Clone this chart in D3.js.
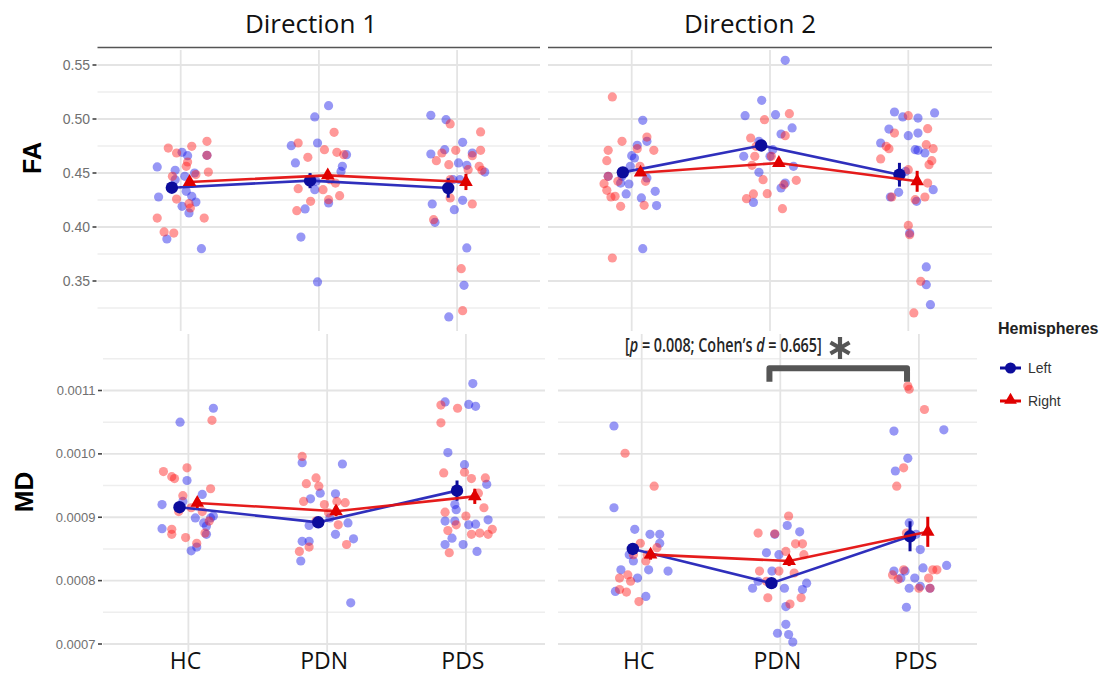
<!DOCTYPE html>
<html><head><meta charset="utf-8">
<script src="https://cdn.jsdelivr.net/npm/d3@7"></script>
<style>body{margin:0;background:#fff} svg{display:block}</style>
</head><body><svg id="c" width="1101" height="676"></svg>
<script>
// ---------------- data ----------------
const categories = ["HC", "PDN", "PDS"];
const hemispheres = ["Left", "Right"];
const directions = ["Direction 1", "Direction 2"];
const measures = ["FA", "MD"];
const faTicks = [0.35, 0.40, 0.45, 0.50, 0.55];
const faTickLabels = ["0.35", "0.40", "0.45", "0.50", "0.55"];
const mdTicks = [0.0007, 0.0008, 0.0009, 0.0010, 0.0011];
const mdTickLabels = ["0.0007", "0.0008", "0.0009", "0.0010", "0.0011"];

// group means and error bars (HC, PDN, PDS)
const faD1Left = [0.4364, 0.4429, 0.4361], faD1Right = [0.4417, 0.4478, 0.4417];
const faD1LeftSE = [0.003, 0.007, 0.009], faD1RightSE = [0.003, 0.004, 0.0075];
const faD2Left = [0.4506, 0.4755, 0.4484], faD2Right = [0.4503, 0.4593, 0.4423];
const faD2LeftSE = [0.003, 0.004, 0.011], faD2RightSE = [0.003, 0.003, 0.0097];
const mdD1Left = [9.158e-4, 8.92e-4, 9.42e-4], mdD1Right = [9.226e-4, 9.095e-4, 9.33e-4];
const mdD1LeftSE = [0.08e-4, 0.08e-4, 0.16e-4], mdD1RightSE = [0.08e-4, 0.08e-4, 0.12e-4];
const mdD2Left = [8.50e-4, 7.96e-4, 8.70e-4], mdD2Right = [8.41e-4, 8.31e-4, 8.77e-4];
const mdD2LeftSE = [0.08e-4, 0.08e-4, 0.237e-4], mdD2RightSE = [0.08e-4, 0.08e-4, 0.237e-4];

// individual subjects: [category index, jitter (category units), value]
const faD1LeftPts = [
 [0,-0.17,0.4556],[0,-0.16,0.4278],[0,-0.10,0.3889],[0,-0.04,0.4525],[0,0.01,0.4691],[0,0.05,0.4660],[0,0.03,0.4469],[0,0.06,0.4130],[0,0.10,0.4500],[0,0.11,0.4231],[0,0.08,0.4284],[0,0.01,0.4191],[0,0.15,0.3799],[0,0.19,0.4664],[0,-0.04,0.4438],[0,0.04,0.4330],
 [1,-0.20,0.4753],[1,-0.17,0.4593],[1,-0.03,0.5019],[1,0.07,0.5123],[1,-0.01,0.4778],[1,-0.10,0.4167],[1,-0.13,0.3907],[1,-0.01,0.3491],[1,0.17,0.4562],[1,0.07,0.4222],[1,-0.03,0.4346],[1,-0.05,0.4438],[1,0.16,0.4515],[1,0.20,0.4670],[1,-0.02,0.4423],
 [2,-0.19,0.5034],[2,-0.08,0.4994],[2,-0.19,0.4676],[2,-0.09,0.4716],[2,0.04,0.4784],[2,0.01,0.4593],[2,0.07,0.4571],[2,-0.18,0.4213],[2,-0.16,0.4043],[2,-0.02,0.4160],[2,0.04,0.4247],[2,0.07,0.3806],[2,0.05,0.3460],[2,-0.06,0.3167],[2,0.11,0.4685],[2,0.20,0.4509],[2,-0.03,0.4438],[2,0.02,0.4438]
];
const faD1RightPts = [
 [0,-0.09,0.4731],[0,-0.17,0.4083],[0,-0.12,0.3954],[0,-0.05,0.3944],[0,-0.03,0.4685],[0,0.05,0.4602],[0,0.08,0.4747],[0,0.19,0.4793],[0,0.20,0.4509],[0,0.17,0.4083],[0,-0.03,0.4259],[0,0.06,0.4216],[0,0.07,0.4176],[0,0.04,0.4562],[0,-0.06,0.4469],[0,0.11,0.4485],[0,0.19,0.4664],
 [1,-0.15,0.4778],[1,-0.08,0.4645],[1,0.11,0.4877],[1,0.04,0.4716],[1,0.13,0.4691],[1,-0.16,0.4151],[1,-0.06,0.4238],[1,-0.15,0.4355],[1,0.07,0.4253],[1,0.15,0.4290],[1,0.18,0.4670],[1,0.08,0.4438],[1,0.03,0.4346],[1,0.12,0.4407],
 [2,-0.05,0.4954],[2,-0.01,0.4710],[2,0.17,0.4880],[2,-0.06,0.4577],[2,-0.15,0.4614],[2,-0.11,0.4685],[2,0.11,0.4660],[2,0.17,0.4710],[2,0.16,0.4562],[2,0.18,0.4525],[2,-0.17,0.4068],[2,-0.05,0.4269],[2,0.11,0.4213],[2,0.03,0.3614],[2,0.04,0.3225],[2,0.08,0.4531],[2,-0.05,0.4438]
];
const faD2LeftPts = [
 [0,0.08,0.4988],[0,0.04,0.4756],[0,0.11,0.4793],[0,0.00,0.4660],[0,-0.01,0.4562],[0,-0.07,0.4469],[0,-0.02,0.4398],[0,-0.04,0.4306],[0,0.07,0.4269],[0,0.17,0.4330],[0,0.18,0.4198],[0,0.08,0.3799],[0,-0.08,0.4407],[0,-0.17,0.4469],[0,0.11,0.4454],[0,0.02,0.4639],
 [1,0.11,0.5543],[1,-0.06,0.5173],[1,-0.18,0.5031],[1,0.04,0.5040],[1,0.16,0.4917],[1,0.08,0.4861],[1,-0.08,0.4793],[1,-0.19,0.4654],[1,0.00,0.4654],[1,-0.08,0.4506],[1,-0.12,0.4228],[1,0.08,0.4361],[1,0.17,0.4562],[1,0.11,0.4407],[1,0.02,0.4716],
 [2,-0.10,0.5065],[2,-0.04,0.5019],[2,0.07,0.5009],[2,0.19,0.5056],[2,-0.14,0.4907],[2,0.00,0.4846],[2,0.07,0.4870],[2,-0.20,0.4778],[2,0.05,0.4716],[2,0.12,0.4685],[2,-0.07,0.4321],[2,-0.13,0.4278],[2,0.06,0.4238],[2,0.18,0.4346],[2,0.01,0.3944],[2,0.13,0.3630],[2,0.13,0.3466],[2,0.16,0.3281],[2,0.07,0.4710],[2,-0.02,0.4515]
];
const faD2RightPts = [
 [0,-0.14,0.5204],[0,-0.07,0.4793],[0,-0.17,0.4710],[0,-0.18,0.4614],[0,-0.20,0.4401],[0,-0.18,0.4340],[0,-0.15,0.4278],[0,-0.12,0.4284],[0,-0.08,0.4191],[0,0.11,0.4833],[0,0.16,0.4710],[0,0.10,0.4423],[0,0.09,0.4201],[0,-0.14,0.3713],[0,-0.17,0.4469],[0,0.04,0.4725],[0,-0.10,0.4423],[0,0.06,0.4562],
 [1,0.14,0.5049],[1,-0.04,0.4994],[1,0.11,0.4846],[1,-0.14,0.4824],[1,-0.11,0.4654],[1,-0.13,0.4571],[1,-0.05,0.4438],[1,-0.12,0.4306],[1,-0.17,0.4262],[1,-0.02,0.4309],[1,0.09,0.4170],[1,0.19,0.4432],[1,0.10,0.4392],[1,0.01,0.4654],[1,-0.10,0.4747],
 [2,0.00,0.5031],[2,-0.10,0.4870],[2,0.14,0.4910],[2,-0.16,0.4747],[2,-0.14,0.4725],[2,0.13,0.4762],[2,0.18,0.4725],[2,0.17,0.4614],[2,0.15,0.4577],[2,-0.20,0.4630],[2,0.00,0.4531],[2,-0.12,0.4278],[2,0.05,0.4253],[2,0.12,0.4278],[2,0.00,0.4015],[2,0.01,0.3929],[2,0.09,0.3497],[2,0.04,0.3204],[2,0.14,0.4407]
];
const mdD1LeftPts = [
 [0,-0.06,10.50e-4],[0,0.18,10.72e-4],[0,-0.19,9.20e-4],[0,-0.19,8.82e-4],[0,-0.01,9.58e-4],[0,0.02,8.47e-4],[0,0.06,8.53e-4],[0,0.11,8.91e-4],[0,0.13,8.73e-4],[0,0.16,8.99e-4],[0,0.18,9.02e-4],[0,0.10,9.36e-4],[0,-0.04,9.25e-4],[0,0.05,8.99e-4],[0,0.13,8.86e-4],
 [1,-0.18,9.86e-4],[1,-0.18,8.62e-4],[1,-0.13,8.62e-4],[1,-0.19,8.31e-4],[1,-0.12,9.29e-4],[1,-0.05,9.38e-4],[1,0.06,9.37e-4],[1,0.11,9.84e-4],[1,0.15,8.91e-4],[1,0.19,8.66e-4],[1,0.17,7.65e-4],[1,0.06,8.73e-4],[1,0.02,8.99e-4],[1,-0.13,8.87e-4],
 [2,-0.15,10.82e-4],[2,0.05,11.11e-4],[2,0.02,10.78e-4],[2,0.07,10.75e-4],[2,-0.13,10.02e-4],[2,-0.01,9.83e-4],[2,-0.15,8.94e-4],[2,-0.08,8.94e-4],[2,-0.07,9.12e-4],[2,0.02,8.88e-4],[2,0.07,8.89e-4],[2,0.16,8.96e-4],[2,0.15,9.52e-4],[2,-0.15,8.57e-4],[2,-0.02,8.57e-4],[2,0.08,8.46e-4],[2,-0.10,8.67e-4],[2,-0.08,9.20e-4]
];
const mdD1RightPts = [
 [0,0.17,10.53e-4],[0,-0.18,9.72e-4],[0,-0.12,9.64e-4],[0,-0.01,9.78e-4],[0,-0.10,9.61e-4],[0,-0.04,9.34e-4],[0,0.16,9.45e-4],[0,-0.12,8.81e-4],[0,-0.12,8.73e-4],[0,-0.02,8.68e-4],[0,0.06,8.59e-4],[0,0.10,9.09e-4],[0,0.15,8.94e-4],[0,-0.07,9.09e-4],[0,0.02,9.15e-4],[0,0.12,8.75e-4],
 [1,-0.18,9.96e-4],[1,-0.15,9.53e-4],[1,-0.08,9.62e-4],[1,-0.06,9.49e-4],[1,-0.17,9.25e-4],[1,-0.20,8.46e-4],[1,-0.13,8.53e-4],[1,0.07,9.25e-4],[1,0.13,9.23e-4],[1,0.14,8.57e-4],[1,0.01,9.07e-4],[1,0.08,8.88e-4],[1,-0.02,9.20e-4],[1,-0.08,8.94e-4],
 [2,-0.18,10.77e-4],[2,-0.06,10.72e-4],[2,-0.18,10.49e-4],[2,-0.16,9.70e-4],[2,-0.01,9.71e-4],[2,0.04,9.61e-4],[2,0.14,9.62e-4],[2,0.13,9.15e-4],[2,-0.15,9.08e-4],[2,-0.13,8.79e-4],[2,-0.07,8.88e-4],[2,0.00,9.02e-4],[2,0.04,8.73e-4],[2,0.10,8.75e-4],[2,0.16,8.73e-4],[2,0.19,8.81e-4],[2,-0.12,8.44e-4],[2,0.09,9.38e-4]
];
const mdD2LeftPts = [
 [0,-0.20,10.44e-4],[0,-0.20,9.15e-4],[0,-0.05,8.81e-4],[0,0.06,8.73e-4],[0,0.13,8.73e-4],[0,0.13,8.59e-4],[0,-0.06,8.31e-4],[0,-0.15,8.17e-4],[0,-0.03,8.04e-4],[0,0.03,7.75e-4],[0,0.19,8.15e-4],[0,0.05,8.17e-4],[0,-0.19,7.83e-4],[0,-0.09,8.41e-4],
 [1,0.05,8.87e-4],[1,0.14,8.77e-4],[1,-0.04,8.73e-4],[1,-0.10,8.44e-4],[1,-0.01,8.41e-4],[1,-0.20,7.88e-4],[1,-0.16,7.99e-4],[1,0.03,7.88e-4],[1,0.19,7.96e-4],[1,0.16,7.86e-4],[1,0.04,7.59e-4],[1,0.04,7.31e-4],[1,-0.02,7.17e-4],[1,0.06,7.15e-4],[1,0.09,7.03e-4],[1,-0.06,8.15e-4],
 [2,-0.18,10.36e-4],[2,0.18,10.38e-4],[2,-0.08,9.93e-4],[2,-0.17,9.73e-4],[2,-0.07,8.91e-4],[2,0.01,8.49e-4],[2,-0.18,8.15e-4],[2,-0.10,8.15e-4],[2,-0.03,8.04e-4],[2,0.03,8.20e-4],[2,0.20,8.24e-4],[2,-0.07,7.88e-4],[2,0.01,7.91e-4],[2,0.08,7.88e-4],[2,-0.09,7.58e-4],[2,-0.02,8.73e-4],[2,-0.13,8.04e-4]
];
const mdD2RightPts = [
 [0,-0.12,10.01e-4],[0,0.09,9.49e-4],[0,-0.01,8.59e-4],[0,0.04,8.41e-4],[0,-0.16,8.04e-4],[0,-0.10,8.09e-4],[0,-0.08,7.99e-4],[0,-0.16,7.86e-4],[0,-0.11,7.82e-4],[0,-0.02,7.67e-4],[0,0.03,8.31e-4],[0,0.11,8.52e-4],[0,-0.06,8.41e-4],
 [1,0.06,9.02e-4],[1,-0.16,8.75e-4],[1,-0.04,8.74e-4],[1,0.11,8.58e-4],[1,0.16,8.58e-4],[1,0.04,8.46e-4],[1,0.17,8.41e-4],[1,-0.15,8.15e-4],[1,-0.01,8.15e-4],[1,-0.09,7.73e-4],[1,0.07,7.63e-4],[1,0.15,7.73e-4],[1,0.10,8.12e-4],[1,-0.10,7.99e-4],
 [2,-0.08,11.07e-4],[2,-0.07,11.02e-4],[2,0.04,10.70e-4],[2,-0.11,9.78e-4],[2,-0.16,9.49e-4],[2,-0.11,8.17e-4],[2,-0.15,8.02e-4],[2,0.10,8.17e-4],[2,0.13,8.17e-4],[2,0.07,8.04e-4],[2,0.00,7.88e-4],[2,0.08,7.88e-4],[2,-0.19,8.09e-4],[2,-0.09,8.75e-4]
];
const annotationText = ["[", "p", " = 0.008; Cohen\u2019s ", "d", " = 0.665]"];

// ---------------- layout ----------------
const svg = d3.select("#c");
const BLUE_PT = "#1818e8", RED_PT = "#ff1a1a";
const BLUE = "#0c0c9c", RED = "#e00000";
const BLUE_LINE = "#2424b8", RED_LINE = "#e41010";
const dodge = 0.064;

const yFA = d3.scaleLinear().domain([0.35, 0.55]).range([281, 65]);
const yMD = d3.scaleLinear().domain([0.0007, 0.0011]).range([644, 390.5]);

const panels = [
  {m:"FA", d:0, left:97.5, right:540, top:50, bottom:331, cx:180.7, step:138.2, y:yFA,
   L:faD1Left, R:faD1Right, Lse:faD1LeftSE, Rse:faD1RightSE, Lp:faD1LeftPts, Rp:faD1RightPts},
  {m:"FA", d:1, left:548, right:992, top:50, bottom:331, cx:631.7, step:138.3, y:yFA,
   L:faD2Left, R:faD2Right, Lse:faD2LeftSE, Rse:faD2RightSE, Lp:faD2LeftPts, Rp:faD2RightPts},
  {m:"MD", d:0, left:103, right:545, top:334, bottom:652, cx:188.4, step:138.75, y:yMD,
   L:mdD1Left, R:mdD1Right, Lse:mdD1LeftSE, Rse:mdD1RightSE, Lp:mdD1LeftPts, Rp:mdD1RightPts},
  {m:"MD", d:1, left:558, right:977, top:334, bottom:652, cx:641.7, step:138.6, y:yMD,
   L:mdD2Left, R:mdD2Right, Lse:mdD2LeftSE, Rse:mdD2RightSE, Lp:mdD2LeftPts, Rp:mdD2RightPts}
];

panels.forEach(p => {
  const x = d3.scaleLinear().domain([0, 2]).range([p.cx, p.cx + 2 * p.step]);
  p.x = x;
  const g = svg.append("g");
  const ticks = p.m === "FA" ? faTicks : mdTicks;
  const dt = ticks[1] - ticks[0];
  const minor = d3.range(-1, ticks.length).map(i => ticks[0] + (i + 0.5) * dt)
    .filter(v => p.y(v) > p.top && p.y(v) < p.bottom);
  g.selectAll(".minor").data(minor).join("line")
    .attr("x1", p.left).attr("x2", p.right).attr("y1", d => p.y(d)).attr("y2", d => p.y(d))
    .attr("stroke", "#eeeeee").attr("stroke-width", 1.4);
  g.selectAll(".major").data(ticks).join("line")
    .attr("x1", p.left).attr("x2", p.right).attr("y1", d => p.y(d)).attr("y2", d => p.y(d))
    .attr("stroke", "#e4e4e4").attr("stroke-width", 1.9);
  g.selectAll(".vg").data(categories).join("line")
    .attr("x1", (d, i) => x(i)).attr("x2", (d, i) => x(i)).attr("y1", p.top).attr("y2", p.bottom)
    .attr("stroke", "#e4e4e4").attr("stroke-width", 1.8);

  // y axis on left column
  if (p.d === 0) {
    const labels = p.m === "FA" ? faTickLabels : mdTickLabels;
    g.selectAll(".tk").data(ticks).join("line")
      .attr("x1", p.left - 5).attr("x2", p.left - 1).attr("y1", d => p.y(d)).attr("y2", d => p.y(d))
      .attr("stroke", "#444").attr("stroke-width", 1.6);
    g.selectAll(".tl").data(ticks).join("text")
      .attr("x", p.left - 7.5).attr("y", d => p.y(d)).attr("dy", "0.35em")
      .attr("text-anchor", "end").attr("font-family", "Liberation Sans, Arial, sans-serif")
      .attr("font-size", p.m === "FA" ? 14 : 13).attr("fill", "#707070")
      .text((d, i) => labels[i]);
  }

  // points
  const pts = g.append("g");
  pts.selectAll(".pl").data(p.Lp).join("circle")
    .attr("cx", d => x(d[0] + d[1])).attr("cy", d => p.y(d[2])).attr("r", 4.6)
    .attr("fill", BLUE_PT).attr("fill-opacity", 0.45);
  pts.selectAll(".pr").data(p.Rp).join("circle")
    .attr("cx", d => x(d[0] + d[1])).attr("cy", d => p.y(d[2])).attr("r", 4.6)
    .attr("fill", RED_PT).attr("fill-opacity", 0.45);

  // means, lines, error bars
  const line = d3.line();
  [[p.L, p.Lse, -dodge, BLUE_LINE, BLUE, "circle"], [p.R, p.Rse, dodge, RED_LINE, RED, "tri"]].forEach(([m, se, off, lc, mc, shape]) => {
    g.append("path").attr("d", line(m.map((v, i) => [x(i + off), p.y(v)])))
      .attr("fill", "none").attr("stroke", lc).attr("stroke-width", 2.6).attr("stroke-opacity", 0.95);
    g.selectAll(null).data(m).join("line")
      .attr("x1", (d, i) => x(i + off)).attr("x2", (d, i) => x(i + off))
      .attr("y1", (d, i) => p.y(d - se[i])).attr("y2", (d, i) => p.y(d + se[i]))
      .attr("stroke", mc).attr("stroke-width", 3);
    if (shape === "circle") {
      g.selectAll(null).data(m).join("circle")
        .attr("cx", (d, i) => x(i + off)).attr("cy", d => p.y(d)).attr("r", 6.2).attr("fill", mc);
    } else {
      g.selectAll(null).data(m).join("path")
        .attr("d", d3.symbol(d3.symbolTriangle, 80))
        .attr("transform", (d, i) => `translate(${x(i + off)},${p.y(d)})`).attr("fill", mc);
    }
  });

  // category labels on bottom row
  if (p.m === "MD") {
    g.selectAll(".cl").data(categories).join("text")
      .attr("x", (d, i) => x(i) - 3).attr("y", 669).attr("text-anchor", "middle")
      .attr("font-family", "Open Sans, sans-serif").attr("font-size", 23).attr("fill", "#111")
      .text(d => d);
  }
});

// strip titles
[[97.5, 540, 311], [548, 992, 750]].forEach((s, i) => {
  svg.append("line").attr("x1", s[0]).attr("x2", s[1]).attr("y1", 47.5).attr("y2", 47.5)
    .attr("stroke", "#555").attr("stroke-width", 1.5);
  svg.append("text").attr("x", s[2]).attr("y", 33).attr("text-anchor", "middle")
    .attr("font-family", "Open Sans, sans-serif").attr("font-size", 26).attr("fill", "#111")
    .text(directions[i]);
});

// measure labels
[["FA", 32, 158, 25], ["MD", 23.5, 492, 26]].forEach(([t, cx, cy, fs]) => {
  svg.append("text").attr("transform", `translate(${cx},${cy}) rotate(-90)`)
    .attr("text-anchor", "middle").attr("dy", "0.36em")
    .attr("font-family", "Liberation Sans, Arial, sans-serif").attr("font-weight", "bold")
    .attr("font-size", fs).attr("fill", "#000").text(t);
});

// significance bracket (bottom-right, PDN vs PDS)
const pBR = panels[3];
const bx1 = pBR.x(1 - dodge) - 2, bx2 = pBR.x(2 - dodge) - 3;
const byTop = pBR.y(11.35e-4), byBot = pBR.y(11.14e-4);
svg.append("path")
  .attr("d", `M${bx1},${byBot} L${bx1},${byTop} L${bx2},${byTop} L${bx2},${byBot}`)
  .attr("fill", "none").attr("stroke", "#555").attr("stroke-width", 6).attr("stroke-linejoin", "round");
// annotation: natural-width text, horizontally condensed by a transform to fit
const ann = svg.append("g");
const at = ann.append("text").attr("x", 0).attr("y", 0)
  .attr("font-family", "Open Sans, sans-serif").attr("font-size", 19).attr("font-weight", 600).attr("fill", "#262626");
annotationText.forEach((t, i) => at.append("tspan").attr("font-style", (i === 1 || i === 3) ? "italic" : "normal").text(t));
const natW = at.node().getComputedTextLength();
ann.attr("transform", `translate(625,352) scale(${197 / natW},1)`);
// asterisk
const ag = svg.append("g").attr("transform", "translate(840,348)");
[90, 30, 150].forEach(a => {
  const r = 11, rad = a * Math.PI / 180;
  ag.append("line").attr("x1", -r * Math.cos(rad)).attr("y1", -r * Math.sin(rad))
    .attr("x2", r * Math.cos(rad)).attr("y2", r * Math.sin(rad))
    .attr("stroke", "#555").attr("stroke-width", 4.2);
});

// legend
const lg = svg.append("g");
lg.append("text").attr("x", 998).attr("y", 334).attr("font-family", "Liberation Sans, Arial, sans-serif")
  .attr("font-weight", "bold").attr("font-size", 16).attr("fill", "#222").text("Hemispheres");
hemispheres.forEach((h, i) => {
  const yy = i === 0 ? 368 : 401;
  const c = i === 0 ? BLUE : RED;
  lg.append("line").attr("x1", 1000).attr("x2", 1021).attr("y1", yy).attr("y2", yy)
    .attr("stroke", c).attr("stroke-width", 3);
  if (i === 0) lg.append("circle").attr("cx", 1010.5).attr("cy", yy).attr("r", 5.5).attr("fill", c);
  else lg.append("path").attr("d", d3.symbol(d3.symbolTriangle, 70)).attr("transform", `translate(1010.5,${yy - 1})`).attr("fill", c);
  lg.append("text").attr("x", 1028).attr("y", yy).attr("dy", "0.36em")
    .attr("font-family", "Liberation Sans, Arial, sans-serif").attr("font-size", 14).attr("fill", "#333").text(h);
});
</script></body></html>
